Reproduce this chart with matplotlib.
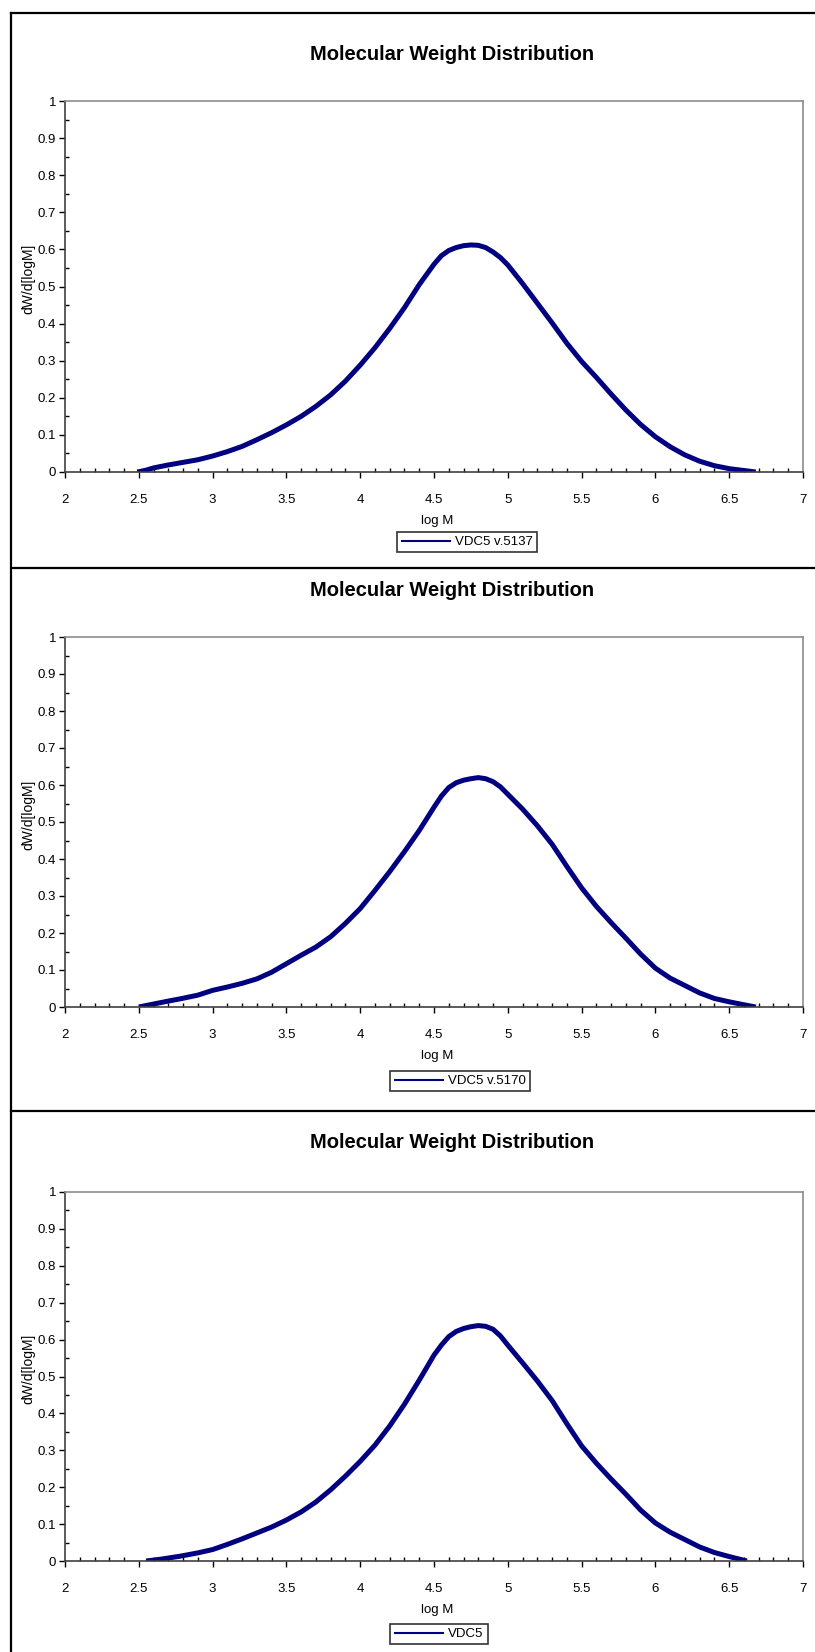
import matplotlib
matplotlib.use("Agg")
import matplotlib.pyplot as plt
from matplotlib.lines import Line2D
from matplotlib.ticker import MultipleLocator, FixedFormatter, FixedLocator

plt.rcParams['font.family'] = ['Liberation Sans', 'DejaVu Sans']

W, H = 815, 1652

TITLE = "Molecular Weight Distribution"
X_LABEL = "log M"
Y_LABEL = "dW/d[logM]"
X_TICKS = [2, 2.5, 3, 3.5, 4, 4.5, 5, 5.5, 6, 6.5, 7]
X_TICK_LABELS = ["2", "2.5", "3", "3.5", "4", "4.5", "5", "5.5", "6", "6.5", "7"]
Y_TICKS = [0, 0.1, 0.2, 0.3, 0.4, 0.5, 0.6, 0.7, 0.8, 0.9, 1]
Y_TICK_LABELS = ["0", "0.1", "0.2", "0.3", "0.4", "0.5", "0.6", "0.7", "0.8", "0.9", "1"]
SERIES_NAMES = ["VDC5 v.5137", "VDC5 v.5170", "VDC5"]

# panel 1
logm_1 = [2.49, 2.55, 2.60, 2.70, 2.80, 2.90, 3.00, 3.10, 3.20, 3.30, 3.40, 3.50,
          3.60, 3.70, 3.80, 3.90, 4.00, 4.10, 4.20, 4.30, 4.40, 4.50, 4.55, 4.60,
          4.65, 4.70, 4.75, 4.80, 4.85, 4.90, 4.95, 5.00, 5.10, 5.20, 5.30, 5.40,
          5.50, 5.60, 5.70, 5.80, 5.90, 6.00, 6.10, 6.20, 6.30, 6.40, 6.50, 6.60, 6.68]
dw_1 = [0.000, 0.005, 0.011, 0.019, 0.026, 0.033, 0.043, 0.055, 0.069, 0.087, 0.106, 0.127,
        0.150, 0.177, 0.208, 0.245, 0.288, 0.335, 0.387, 0.443, 0.505, 0.560, 0.583, 0.597,
        0.605, 0.610, 0.612, 0.611, 0.605, 0.593, 0.578, 0.558, 0.508, 0.455, 0.402, 0.347,
        0.298, 0.255, 0.210, 0.167, 0.128, 0.095, 0.068, 0.046, 0.029, 0.017, 0.009, 0.004, 0.000]

# panel 2
logm_2 = [2.50, 2.60, 2.70, 2.78, 2.90, 3.00, 3.10, 3.20, 3.30, 3.40, 3.50, 3.60,
          3.70, 3.80, 3.90, 4.00, 4.10, 4.20, 4.30, 4.40, 4.50, 4.55, 4.60, 4.65,
          4.70, 4.75, 4.80, 4.85, 4.90, 4.95, 5.00, 5.10, 5.20, 5.30, 5.40, 5.50,
          5.60, 5.70, 5.80, 5.90, 6.00, 6.10, 6.20, 6.30, 6.40, 6.50, 6.60, 6.68]
dw_2 = [0.000, 0.008, 0.016, 0.022, 0.032, 0.045, 0.054, 0.064, 0.076, 0.094, 0.117, 0.140,
        0.162, 0.190, 0.226, 0.266, 0.315, 0.366, 0.420, 0.477, 0.540, 0.570, 0.593, 0.606,
        0.613, 0.617, 0.620, 0.617, 0.609, 0.595, 0.575, 0.535, 0.490, 0.440, 0.380, 0.322,
        0.272, 0.228, 0.186, 0.143, 0.105, 0.078, 0.058, 0.038, 0.023, 0.014, 0.006, 0.000]

# panel 3
logm_3 = [2.55, 2.65, 2.78, 2.90, 3.00, 3.10, 3.20, 3.30, 3.40, 3.50, 3.60, 3.70,
          3.80, 3.90, 4.00, 4.10, 4.20, 4.30, 4.40, 4.50, 4.55, 4.60, 4.65, 4.70,
          4.75, 4.80, 4.85, 4.90, 4.95, 5.00, 5.10, 5.20, 5.30, 5.40, 5.50, 5.60,
          5.70, 5.80, 5.90, 6.00, 6.10, 6.20, 6.30, 6.40, 6.50, 6.58, 6.62]
dw_3 = [0.000, 0.005, 0.013, 0.022, 0.031, 0.045, 0.060, 0.076, 0.092, 0.111, 0.133, 0.160,
        0.193, 0.230, 0.270, 0.314, 0.366, 0.425, 0.490, 0.558, 0.585, 0.608, 0.622, 0.630,
        0.635, 0.638, 0.636, 0.628, 0.610, 0.585, 0.537, 0.488, 0.435, 0.372, 0.312, 0.265,
        0.222, 0.181, 0.138, 0.103, 0.078, 0.058, 0.038, 0.023, 0.012, 0.004, 0.000]

LOGM = [logm_1, logm_2, logm_3]
DW = [dw_1, dw_2, dw_3]

# pixel layout of each panel: axes top, axes bottom, title y, legend centre (x, y)
PANELS = [
    dict(top=101, bottom=472, title_y=54, leg=(467, 542)),
    dict(top=637, bottom=1007, title_y=591, leg=(460, 1081)),
    dict(top=1192, bottom=1561, title_y=1143, leg=(439, 1634)),
]
AX_LEFT, AX_RIGHT = 65, 803
NAVY = "#000080"


def fx(px):
    return px / W


def fy(py):
    return 1 - py / H


fig = plt.figure(figsize=(W / 100, H / 100), dpi=100)

for i, p in enumerate(PANELS):
    ax = fig.add_axes([fx(AX_LEFT), fy(p["bottom"]), (AX_RIGHT - AX_LEFT) / W,
                       (p["bottom"] - p["top"]) / H])
    ax.plot(LOGM[i], DW[i], color=NAVY, linewidth=3.6, solid_joinstyle="round",
            solid_capstyle="butt", label=SERIES_NAMES[i])
    ax.set_xlim(2, 7)
    ax.set_ylim(0, 1)

    ax.xaxis.set_major_locator(FixedLocator(X_TICKS))
    ax.xaxis.set_major_formatter(FixedFormatter(X_TICK_LABELS))
    ax.yaxis.set_major_locator(FixedLocator(Y_TICKS))
    ax.yaxis.set_major_formatter(FixedFormatter(Y_TICK_LABELS))
    ax.xaxis.set_minor_locator(MultipleLocator(0.1))
    ax.yaxis.set_minor_locator(MultipleLocator(0.05))
    ax.tick_params(which="major", direction="out", length=4, width=1, color="black",
                   labelsize=9.5)
    ax.tick_params(axis="x", which="major", pad=12)
    ax.tick_params(axis="y", which="major", pad=2.5)
    ax.tick_params(which="minor", direction="in", length=3, width=1, color="black")

    for side in ("top", "right"):
        ax.spines[side].set_color("#8c8c8c")
        ax.spines[side].set_linewidth(1.2)
    for side in ("left", "bottom"):
        ax.spines[side].set_color("#404040")
        ax.spines[side].set_linewidth(1.2)

    ax.set_xlabel(X_LABEL, fontsize=9.5)
    ax.xaxis.set_label_coords(0.504, -0.116)
    ax.set_ylabel(Y_LABEL, fontsize=10)
    ax.yaxis.set_label_coords(-0.040, 0.52)

    fig.text(fx(452), fy(p["title_y"]), TITLE, ha="center", va="center",
             fontsize=14.5, fontweight="bold")

    lx, ly = p["leg"]
    leg = ax.legend(loc="center", bbox_to_anchor=(fx(lx), fy(ly)),
                    bbox_transform=fig.transFigure, fontsize=9.5, frameon=True,
                    fancybox=False, handlelength=3.8, borderpad=0.3,
                    handletextpad=0.3, borderaxespad=0)
    leg.get_frame().set_edgecolor("black")
    leg.get_frame().set_linewidth(1.2)
    for ln in leg.get_lines():
        ln.set_linewidth(1.5)

# chart borders
border = dict(color="black", linewidth=1.6, transform=fig.transFigure)
fig.add_artist(Line2D([fx(11), fx(11)], [fy(13), 0], **border))
fig.add_artist(Line2D([fx(11), 1], [fy(13), fy(13)], **border))
fig.add_artist(Line2D([fx(13), 1], [fy(568), fy(568)], **border))
fig.add_artist(Line2D([fx(11), 1], [fy(1111), fy(1111)], **border))

fig.savefig("out.png", dpi=100)
